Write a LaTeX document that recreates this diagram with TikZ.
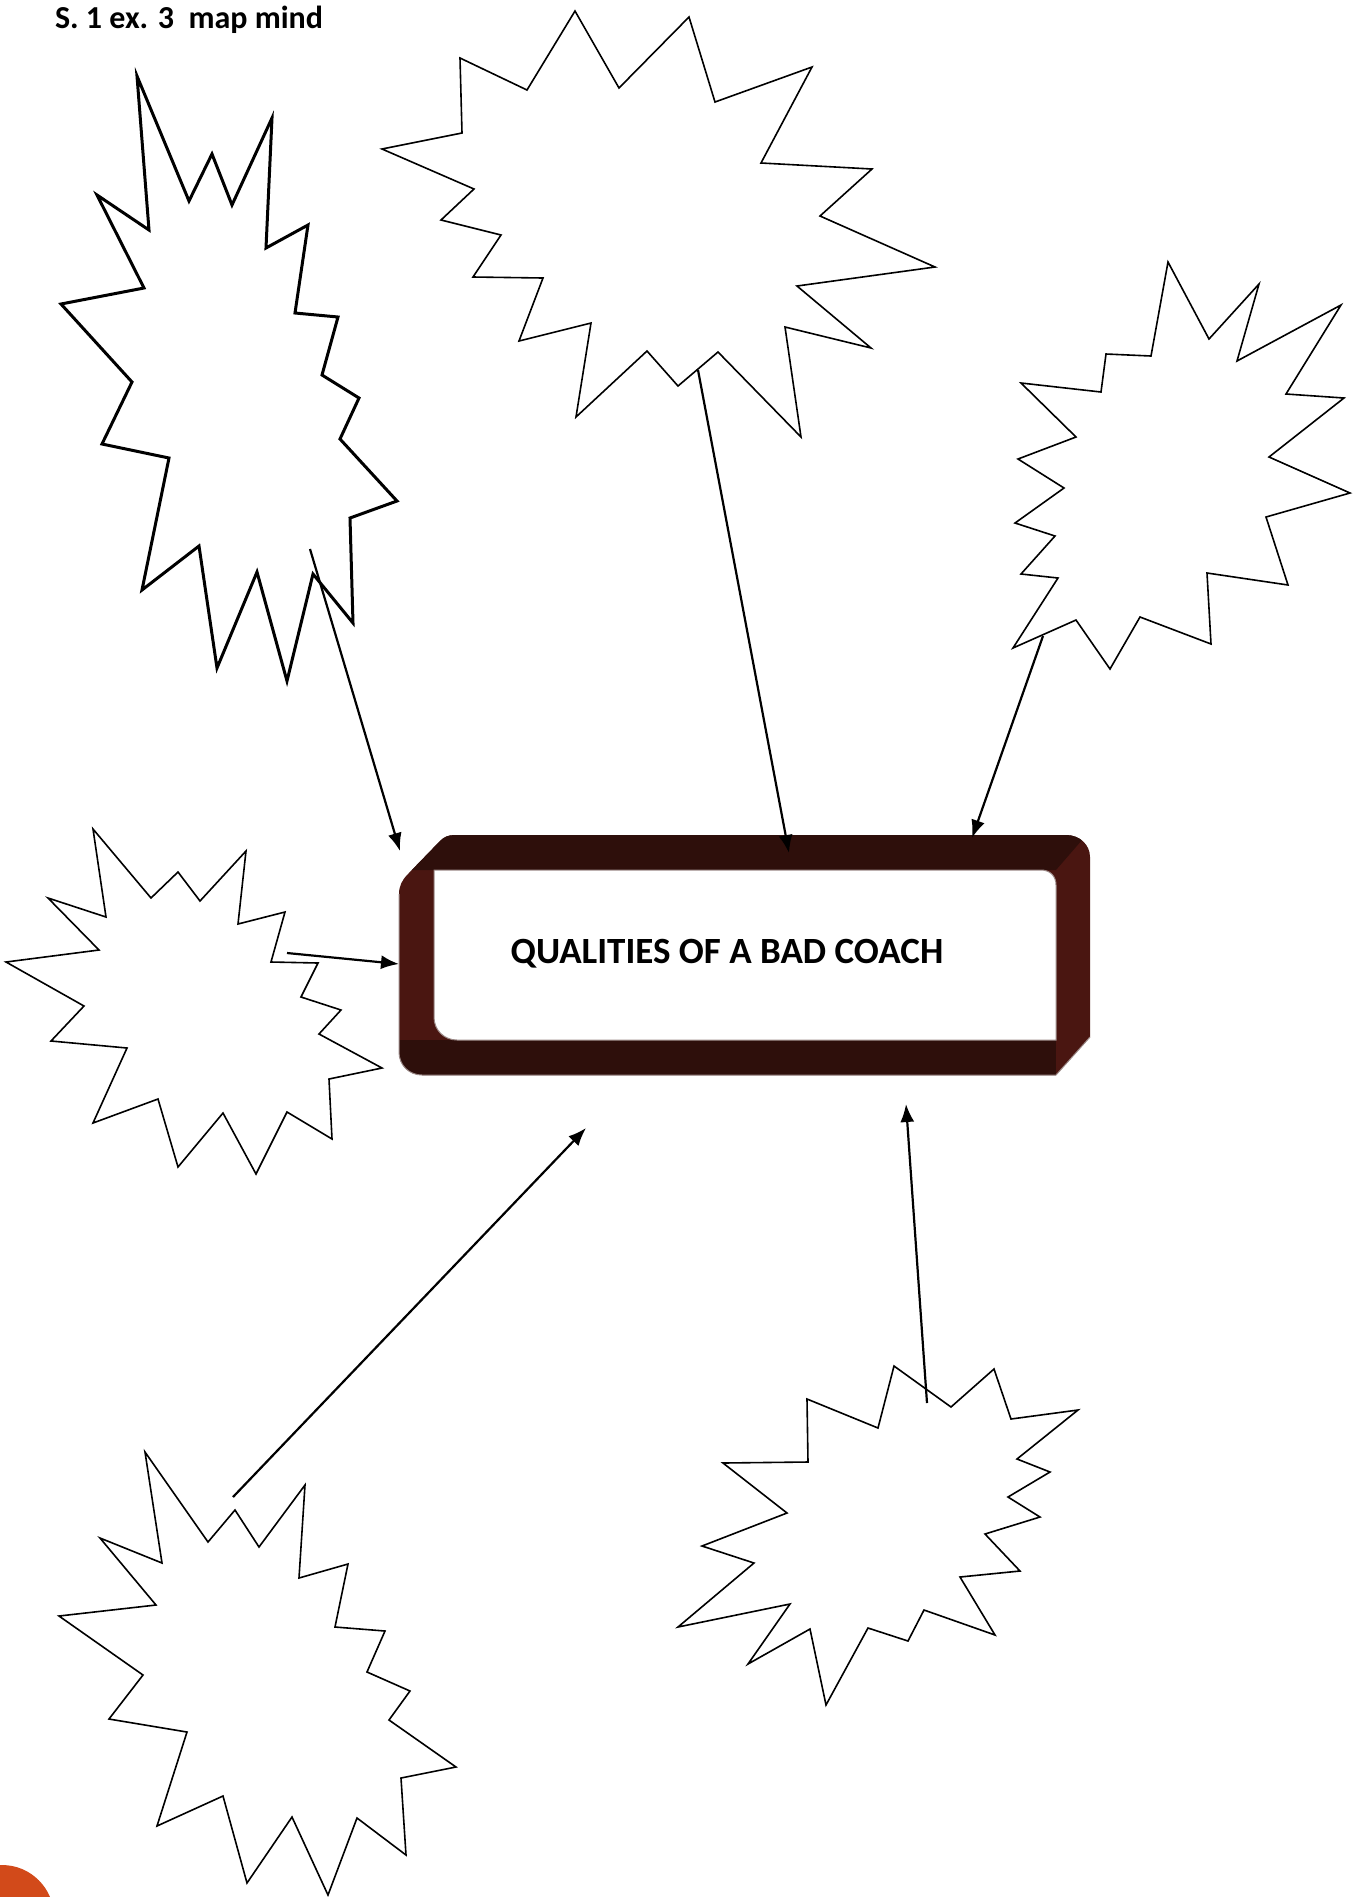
\documentclass[tikz,border=0pt]{standalone}
\usepackage{fontspec}
\setmainfont{Carlito}
\usetikzlibrary{arrows.meta}
\definecolor{cdark}{HTML}{2E0F0B}
\definecolor{cred}{HTML}{4A1611}
\definecolor{crim}{HTML}{9A8886}
\definecolor{corange}{HTML}{D24A1A}

\begin{document}
\begin{tikzpicture}[x=0.5pt, y=-0.5pt,
  burst/.style={draw=black, fill=white, line width=0.8pt, line join=miter},
  thickburst/.style={burst, line width=1.5pt},
  arr/.style={-{Latex[length=9pt, width=7pt]}, line width=1.1pt},
  ttl/.style={font=\fontsize{16pt}{19pt}\selectfont\bfseries, anchor=base west},
  lbl/.style={font=\fontsize{18.5pt}{22pt}\selectfont\bfseries, anchor=base}
]
\useasboundingbox (0,0) rectangle (1359,1897);

%% ── Title and page mark
\node[ttl] (title) at (48,28) {S. 1 ex. 3\ \ map mind};
\fill[corange] (2,1917) circle (26pt);

%% ── Starbursts
\draw[thickburst] (137,76) -- (149,230) -- (97,195) -- (144,288) -- (61,304) -- (132,382)
  -- (102,444) -- (169,458) -- (142,590) -- (199,546) -- (217,668) -- (257,572) -- (287,681)
  -- (313,574) -- (353,623) -- (350,518) -- (397,501) -- (340,439) -- (359,398) -- (322,375)
  -- (338,317) -- (295,313) -- (308,225) -- (266,248) -- (272,118) -- (232,205) -- (212,154)
  -- (189,201) -- cycle;
\draw[burst] (575,11) -- (619,88) -- (689,17) -- (715,102) -- (812,67) -- (761,163)
  -- (872,169) -- (820,216) -- (935,267) -- (797,286) -- (871,348) -- (785,327) -- (801,437)
  -- (718,352) -- (678,386) -- (647,351) -- (576,417) -- (591,323) -- (519,341) -- (543,278)
  -- (473,277) -- (501,235) -- (441,220) -- (474,189) -- (382,149) -- (462,133) -- (460,58)
  -- (527,90) -- cycle;
\draw[burst] (1168,262) -- (1209,339) -- (1259,284) -- (1237,361) -- (1341,305) -- (1286,394)
  -- (1344,398) -- (1269,457) -- (1350,493) -- (1266,517) -- (1288,585) -- (1207,573)
  -- (1211,644) -- (1140,617) -- (1110,669) -- (1076,620) -- (1013,648) -- (1058,578)
  -- (1021,574) -- (1055,536) -- (1015,523) -- (1064,488) -- (1018,459) -- (1076,437)
  -- (1021,383) -- (1101,392) -- (1106,354) -- (1151,356) -- cycle;
\draw[burst] (93,829) -- (151,898) -- (178,872) -- (200,901) -- (246,851) -- (238,924)
  -- (285,912) -- (271,962) -- (318,963) -- (301,997) -- (341,1010) -- (319,1034) -- (382,1068)
  -- (329,1079) -- (332,1139) -- (287,1112) -- (256,1174) -- (223,1113) -- (178,1167)
  -- (158,1099) -- (93,1123) -- (127,1048) -- (51,1041) -- (84,1006) -- (6,962) -- (99,950)
  -- (48,898) -- (106,917) -- cycle;
\draw[burst] (145,1452) -- (208,1542) -- (235,1510) -- (259,1547) -- (305,1485) -- (299,1578)
  -- (348,1564) -- (335,1627) -- (385,1631) -- (367,1672) -- (410,1691) -- (389,1720)
  -- (456,1767) -- (401,1778) -- (406,1855) -- (357,1818) -- (328,1895) -- (292,1817)
  -- (247,1883) -- (223,1796) -- (157,1826) -- (187,1732) -- (109,1719) -- (143,1675)
  -- (59,1616) -- (156,1605) -- (100,1538) -- (162,1563) -- cycle;
\draw[burst] (894,1366) -- (951,1407) -- (994,1369) -- (1011,1419) -- (1078,1410) -- (1017,1459)
  -- (1050,1472) -- (1008,1497) -- (1040,1517) -- (985,1534) -- (1020,1571) -- (960,1577)
  -- (995,1635) -- (924,1610) -- (908,1641) -- (868,1628) -- (826,1705) -- (810,1629)
  -- (748,1664) -- (790,1604) -- (678,1627) -- (754,1563) -- (702,1546) -- (787,1513)
  -- (723,1463) -- (808,1462) -- (807,1399) -- (878,1428) -- cycle;

%% ── Central 3D frame
\begin{scope}
  \clip (399,1052) .. controls (399,1065) and (409,1075) .. (422,1075) -- (1056,1075)
    -- (1090,1037) -- (1090,857) .. controls (1090,845) and (1080,835) .. (1066,835)
    -- (455,835) .. controls (448,835) and (444,837) .. (440,841) -- (408,874)
    .. controls (402,880) and (399,886) .. (399,894) -- cycle;
  \fill[cred] (390,825) rectangle (1095,1080);
  \fill[cdark] (390,825) -- (1095,825) -- (1056,870) -- (390,870) -- cycle;
  \fill[cdark] (390,1040) rectangle (1056,1080);
\end{scope}
\draw[crim, line width=0.5pt] (399,894) -- (399,1052) .. controls (399,1065) and (409,1075) .. (422,1075)
  -- (1056,1075) -- (1090,1037);
\filldraw[fill=white, draw=crim, line width=0.5pt] (434,870) -- (1041,870)
  .. controls (1050,870) and (1056,876) .. (1056,885) -- (1056,1040) -- (457,1040)
  .. controls (444,1040) and (434,1030) .. (434,1017) -- cycle;
\node[lbl] (coach) at (727,963) {QUALITIES OF A BAD COACH};

%% ── Arrow ends
\coordinate (b1) at (310,549);  \coordinate (h1) at (400,851);
\coordinate (b2) at (698,370);  \coordinate (h2) at (789,853);
\coordinate (b3) at (1043,636); \coordinate (h3) at (972,838);
\coordinate (b4) at (287,953);  \coordinate (h4) at (399,964);
\coordinate (b5) at (233,1497); \coordinate (h5) at (586,1128);
\coordinate (b6) at (927,1403); \coordinate (h6) at (906,1104);

%% ── Arrows into the frame
\foreach \i in {1,...,6}
  \draw[arr] (b\i) -- (h\i);

\end{tikzpicture}
\end{document}
